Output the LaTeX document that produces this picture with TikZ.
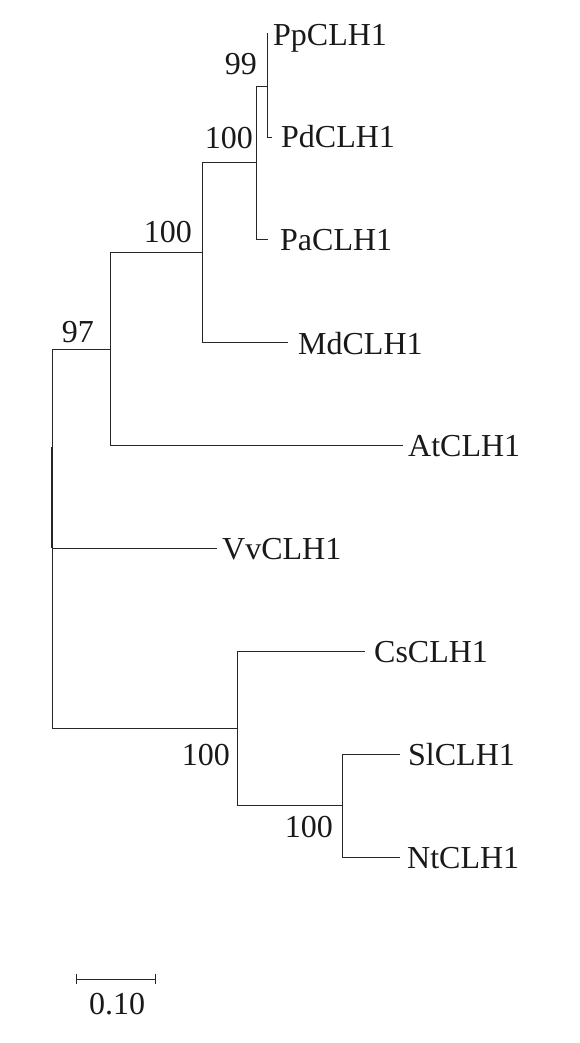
\documentclass[tikz,border=0pt]{standalone}
\usepackage{fontspec}
\setmainfont{Liberation Serif}
\begin{document}
\begin{tikzpicture}[x=1pt,y=-1pt,
  edge/.style={draw=black!85,line width=0.8pt},
  lab/.style={anchor=base west,inner sep=0pt,font=\fontsize{32}{37}\selectfont,text=black!90},
  boot/.style={anchor=base east,inner sep=0pt,font=\fontsize{32}{37}\selectfont,text=black!90}]
\useasboundingbox (0,0) rectangle (579,1043);
% internal nodes
\coordinate (r) at (52,548);
\coordinate (rthick) at (52,447);
\coordinate (n97) at (110,349);
\coordinate (nA) at (202,252);
\coordinate (nB) at (256,162);
\coordinate (n99) at (267,86);
\coordinate (nC) at (237,728);
\coordinate (nD) at (342,805);
% tips
\coordinate (tPp) at (268,33);
\coordinate (tPd) at (272,137);
\coordinate (tPa) at (268,239);
\coordinate (tMd) at (288,342);
\coordinate (tAt) at (403,445);
\coordinate (tVv) at (217,548);
\coordinate (tCs) at (365,651);
\coordinate (tSl) at (400,754);
\coordinate (tNt) at (400,857);
% edges
\draw[edge] (r) |- (n97);
\draw[edge] (r) -- (tVv);
\draw[edge] (r) |- (nC);
\draw[line width=1.6pt,black!85] (rthick) -- (r);
\draw[edge] (n97) |- (nA);
\draw[edge] (n97) |- (tAt);
\draw[edge] (nA) |- (nB);
\draw[edge] (nA) |- (tMd);
\draw[edge] (nB) |- (n99);
\draw[edge] (nB) |- (tPa);
\draw[edge] (n99) |- (tPp);
\draw[edge] (n99) |- (tPd);
\draw[edge] (nC) |- (tCs);
\draw[edge] (nC) |- (nD);
\draw[edge] (nD) |- (tSl);
\draw[edge] (nD) |- (tNt);
% leaf labels
\node[lab] (lPp) at (273,46) {PpCLH1};
\node[lab] (lPd) at (281,148) {PdCLH1};
\node[lab] (lPa) at (280,250.5) {PaCLH1};
\node[lab] (lMd) at (298,354) {MdCLH1};
\node[lab] (lAt) at (408,456) {AtCLH1};
\node[lab] (lVv) at (222,559) {VvCLH1};
\node[lab] (lCs) at (374,662) {CsCLH1};
\node[lab] (lSl) at (408,765) {SlCLH1};
\node[lab] (lNt) at (407,868) {NtCLH1};
% bootstrap values
\node[boot] (b99) at (257,75) {99};
\node[boot] (bB) at (253,149) {100};
\node[boot] (bA) at (192,242) {100};
\node[boot] (b97) at (94,342) {97};
\node[boot] (bC) at (230,765) {100};
\node[boot] (bD) at (333,837) {100};
% scale bar
\coordinate (s1) at (76,979);
\coordinate (s2) at (155,979);
\draw[edge] (s1) -- (s2);
\draw[edge] ([yshift=-5pt]s1) -- ([yshift=5pt]s1);
\draw[edge] ([yshift=-5pt]s2) -- ([yshift=5pt]s2);
\node[anchor=base,inner sep=0pt,font=\fontsize{32}{37}\selectfont,text=black!90] (sl) at (117,1014) {0.10};
\end{tikzpicture}
\end{document}
